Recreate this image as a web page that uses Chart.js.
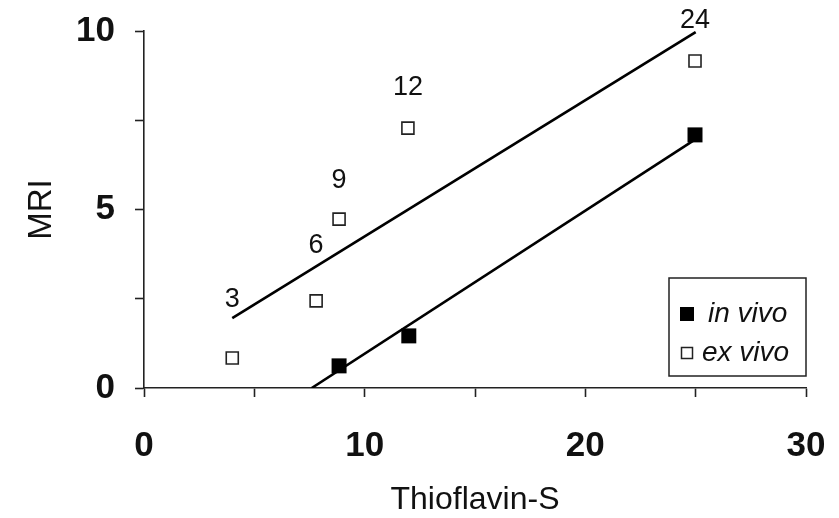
<!DOCTYPE html>
<html>
<head>
<meta charset="utf-8">
<script src="https://cdn.jsdelivr.net/npm/chart.js@4"></script>
<style>
  html, body { margin: 0; padding: 0; background: #fff; }
  #wrap { width: 839px; height: 518px; }
</style>
</head>
<body>
<div id="wrap"><canvas id="chart" width="839" height="518"></canvas></div>
<script>
// Thioflavin-S vs MRI
const exVivoX = [4, 7.8, 8.84, 11.96, 24.97];
const exVivoY = [0.84, 2.44, 4.73, 7.28, 9.16];
const inVivoX = [8.84, 12.0, 24.97];
const inVivoY = [0.62, 1.46, 7.09];

// fitted lines (end points)
const exVivoFitX = [4, 25];
const exVivoFitY = [1.96, 9.97];
const inVivoFitX = [7.6, 25];
const inVivoFitY = [0, 6.97];

// time labels over the ex vivo points, and where they sit on the y scale
const timeLabels = ['3', '6', '9', '12', '24'];
const timeLabelY = [2.49, 3.98, 5.8, 8.42, 10.28];

const xTicks = [0, 10, 20, 30];
const yTicks = [0, 5, 10];

const FONT = "'Liberation Sans', Arial, sans-serif";

function pts(xs, ys) {
    return xs.map((x, i) => ({ x: x, y: ys[i] }));
}

// keep the plot box where it is in the figure
function fixBox(size, key) {
    return function (scale) {
        scale[key] = size;
        scale.paddingTop = 0;
        scale.paddingBottom = 0;
        scale.paddingLeft = 0;
        scale.paddingRight = 0;
    };
}

const timeLabelPlugin = {
    id: 'timeLabels',
    afterDatasetsDraw(chart) {
        const ctx = chart.ctx;
        const xs = chart.scales.x, ys = chart.scales.y;
        ctx.save();
        ctx.font = '27px ' + FONT;
        ctx.fillStyle = '#111';
        ctx.textAlign = 'center';
        ctx.textBaseline = 'middle';
        timeLabels.forEach((t, i) => {
            ctx.fillText(t, xs.getPixelForValue(exVivoX[i]), ys.getPixelForValue(timeLabelY[i]));
        });
        ctx.restore();
    }
};

// legend box in the lower right corner of the plot
const boxLegendPlugin = {
    id: 'boxLegend',
    afterDraw(chart) {
        const ctx = chart.ctx;
        const area = chart.chartArea;
        const w = 137, h = 98;
        const left = area.right - w;
        const top = area.bottom - 12 - h;
        ctx.save();
        ctx.strokeStyle = '#222';
        ctx.lineWidth = 1.5;
        ctx.strokeRect(left, top, w, h);

        const items = [chart.data.datasets[0], chart.data.datasets[1]];
        ctx.font = 'italic 28px ' + FONT;
        ctx.textBaseline = 'middle';
        ctx.textAlign = 'left';
        items.forEach((ds, i) => {
            const cy = top + 36 + i * 39;
            const cx = left + 18;
            const s = i === 0 ? 14 : 11;
            if (i === 0) {
                ctx.fillStyle = '#000';
                ctx.fillRect(cx - s / 2, cy - s / 2, s, s);
            } else {
                ctx.fillStyle = '#fff';
                ctx.fillRect(cx - s / 2, cy - s / 2, s, s);
                ctx.strokeStyle = '#222';
                ctx.lineWidth = 1.5;
                ctx.strokeRect(cx - s / 2, cy - s / 2, s, s);
            }
            ctx.fillStyle = '#111';
            ctx.fillText(ds.label, i === 0 ? left + 39 : left + 33, cy);
        });
        ctx.restore();
    }
};

new Chart(document.getElementById('chart'), {
    type: 'scatter',
    data: {
        datasets: [
            {
                label: 'in vivo',
                data: pts(inVivoX, inVivoY),
                pointStyle: 'rect',
                pointRadius: 10.6,
                backgroundColor: '#000',
                borderColor: '#000',
                borderWidth: 0,
                order: 1
            },
            {
                label: 'ex vivo',
                data: pts(exVivoX, exVivoY),
                pointStyle: 'rect',
                pointRadius: 8.5,
                backgroundColor: '#fff',
                borderColor: '#222',
                borderWidth: 1.6,
                order: 1
            },
            {
                label: 'ex vivo fit',
                type: 'line',
                data: pts(exVivoFitX, exVivoFitY),
                showLine: true,
                pointRadius: 0,
                borderColor: '#000',
                borderWidth: 2.6,
                order: 2
            },
            {
                label: 'in vivo fit',
                type: 'line',
                data: pts(inVivoFitX, inVivoFitY),
                showLine: true,
                pointRadius: 0,
                borderColor: '#000',
                borderWidth: 2.6,
                order: 2
            }
        ]
    },
    options: {
        responsive: false,
        animation: false,
        layout: { padding: { top: 31, right: 33, left: 0, bottom: 0 } },
        plugins: {
            legend: { display: false },
            tooltip: { enabled: false }
        },
        scales: {
            x: {
                type: 'linear',
                min: 0,
                max: 30,
                border: { display: true, color: '#222', width: 1.6 },
                grid: { drawOnChartArea: false, drawTicks: true, tickLength: 9, tickColor: '#222', tickWidth: 1.6 },
                ticks: {
                    stepSize: 5,
                    autoSkip: false,
                    maxRotation: 0,
                    padding: 28,
                    color: '#111',
                    font: { family: FONT, size: 35, weight: 'bold' },
                    callback: v => xTicks.includes(v) ? String(v) : ''
                },
                title: {
                    display: true,
                    text: 'Thioflavin-S',
                    color: '#111',
                    font: { family: FONT, size: 32, lineHeight: 1.1 },
                    padding: { top: 0, bottom: 0 }
                },
                afterFit: fixBox(130, 'height')
            },
            y: {
                type: 'linear',
                min: 0,
                max: 10,
                border: { display: true, color: '#222', width: 1.6 },
                grid: { drawOnChartArea: false, drawTicks: true, tickLength: 9, tickColor: '#222', tickWidth: 1.6 },
                ticks: {
                    stepSize: 2.5,
                    autoSkip: false,
                    padding: 20,
                    color: '#111',
                    font: { family: FONT, size: 35, weight: 'bold' },
                    callback: v => yTicks.includes(v) ? String(v) : ''
                },
                title: {
                    display: true,
                    text: 'MRI',
                    color: '#111',
                    font: { family: FONT, size: 33, lineHeight: 1.2 },
                    padding: { top: 22, bottom: 0 }
                },
                afterFit: fixBox(144, 'width')
            }
        }
    },
    plugins: [timeLabelPlugin, boxLegendPlugin]
});
</script>
</body>
</html>
